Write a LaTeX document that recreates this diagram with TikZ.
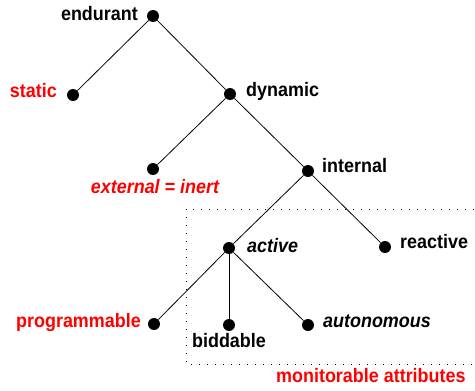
\documentclass[tikz,border=0pt]{standalone}
\usepackage{fontspec}
\setmainfont[FakeStretch=0.92]{Liberation Sans}
\begin{document}
\begin{tikzpicture}[x=1pt,y=-1pt,
  dot/.style={circle,fill=black,inner sep=0pt,minimum size=12pt},
  lbl/.style={font=\fontsize{19.5}{22}\selectfont\bfseries,inner sep=0pt},
  ilbl/.style={lbl,font=\fontsize{19.5}{22}\selectfont\bfseries\itshape},
  redlbl/.style={text=red},
  edge/.style={line width=0.8pt}]
\useasboundingbox (0,0) rectangle (475,391);
% dots
\node[dot] (end) at (153,16) {};
\node[dot] (sta) at (73,95) {};
\node[dot] (dyn) at (230,94) {};
\node[dot] (ext) at (153,169) {};
\node[dot] (int) at (308,171) {};
\node[dot] (act) at (229,248) {};
\node[dot] (rea) at (385,247) {};
\node[dot] (pro) at (154,324) {};
\node[dot] (bid) at (229,325) {};
\node[dot] (aut) at (308,325) {};
% edges
\draw[edge] (end) -- (sta);
\draw[edge] (end) -- (dyn);
\draw[edge] (dyn) -- (ext);
\draw[edge] (dyn) -- (int);
\draw[edge] (int) -- (act);
\draw[edge] (int) -- (rea);
\draw[edge] (act) -- (pro);
\draw[edge] (act) -- (bid);
\draw[edge] (act) -- (aut);
% labels
\node[lbl,anchor=base east] (lend) at (138,20) {endurant};
\node[lbl,redlbl,anchor=base east] (lsta) at (57,97) {static};
\node[lbl,anchor=base west] (ldyn) at (246,96) {dynamic};
\node[ilbl,redlbl,anchor=base] (lext) at (155,193) {external = inert};
\node[lbl,anchor=base west] (lint) at (322,172) {internal};
\node[ilbl,anchor=base west] (lact) at (247,252) {active};
\node[lbl,anchor=base west] (lrea) at (400,248) {reactive};
\node[lbl,redlbl,anchor=base east] (lpro) at (141,327) {programmable};
\node[lbl,anchor=base] (lbid) at (229,347) {biddable};
\node[ilbl,anchor=base west] (laut) at (323,327) {autonomous};
\node[lbl,redlbl,anchor=base west] (lmon) at (276,382) {monitorable attributes};
% dotted region
\draw[line width=1pt,dash pattern=on 1pt off 7pt] (474,209) -| (186,364) -- (474,364);
\end{tikzpicture}
\end{document}
